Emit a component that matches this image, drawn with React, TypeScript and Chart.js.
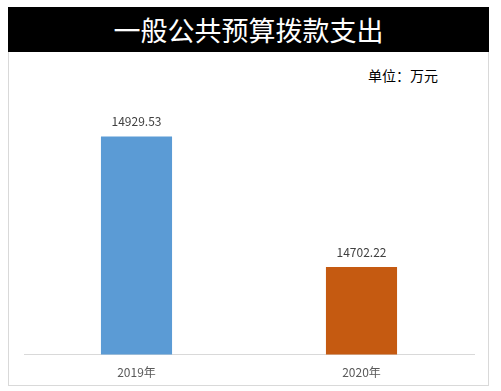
import React, { useEffect, useRef } from "react";
import { Chart, registerables } from "chart.js";

Chart.register(...registerables);

const categories = ["2019年", "2020年"];
const values = [14929.53, 14702.22];
const barColors = ["#5B9BD5", "#C55A11"];
const valueLabels = ["14929.53", "14702.22"];
const titleText = "一般公共预算拨款支出";
const unitText = "单位：万元";
const yMin = 14550;
const yMax = 15000;

const FONT = "'Noto Sans CJK SC', 'Noto Sans', sans-serif";

const valueLabelPlugin = {
  id: "valueLabels",
  afterDatasetsDraw(chart: any) {
    const { ctx } = chart;
    const meta = chart.getDatasetMeta(0);
    ctx.save();
    ctx.font = `12px ${FONT}`;
    ctx.fillStyle = "#404040";
    ctx.textAlign = "center";
    ctx.textBaseline = "middle";
    meta.data.forEach((el: any, i: number) => {
      ctx.fillText(valueLabels[i], el.x, el.y - 15);
    });
    ctx.restore();
  },
};

export default function App() {
  const canvasRef = useRef<HTMLCanvasElement | null>(null);

  useEffect(() => {
    if (!canvasRef.current) return;
    const chart = new Chart(canvasRef.current, {
      type: "bar",
      data: {
        labels: categories,
        datasets: [
          {
            data: values,
            backgroundColor: barColors,
            borderWidth: 0,
            categoryPercentage: 1,
            barPercentage: 0.316,
          },
        ],
      },
      options: {
        animation: false,
        responsive: false,
        devicePixelRatio: 1,
        layout: { padding: { left: 24, right: 27, top: 96, bottom: 8 } },
        plugins: {
          legend: { display: false },
          title: { display: false },
          tooltip: { enabled: false },
        },
        scales: {
          x: {
            grid: { display: false },
            border: { display: true, color: "#d9d9d9", width: 1 },
            ticks: {
              color: "#595959",
              font: { family: FONT, size: 12 },
              padding: 3,
            },
          },
          y: {
            display: false,
            min: yMin,
            max: yMax,
          },
        },
      },
      plugins: [valueLabelPlugin],
    });
    return () => chart.destroy();
  }, []);

  return (
    <div style={{ position: "absolute", left: 0, top: 0, width: 501, height: 391, background: "#fff" }}>
      <div
        style={{
          position: "absolute",
          left: 8,
          top: 7,
          width: 479,
          height: 377,
          border: "1px solid #d9d9d9",
          background: "#fff",
        }}
      />
      <div
        style={{
          position: "absolute",
          left: 8,
          top: 7,
          width: 481,
          height: 45,
          background: "#000",
          color: "#fff",
          fontFamily: FONT,
          fontSize: 27,
          lineHeight: "45px",
          textAlign: "center",
        }}
      >
        {titleText}
      </div>
      <div
        style={{
          position: "absolute",
          left: 368,
          top: 65,
          color: "#000",
          fontFamily: FONT,
          fontSize: 14,
          lineHeight: "20px",
          whiteSpace: "nowrap",
        }}
      >
        {unitText}
      </div>
      <canvas
        ref={canvasRef}
        width={501}
        height={391}
        style={{ position: "absolute", left: 0, top: 0, width: 501, height: 391 }}
      />
    </div>
  );
}
